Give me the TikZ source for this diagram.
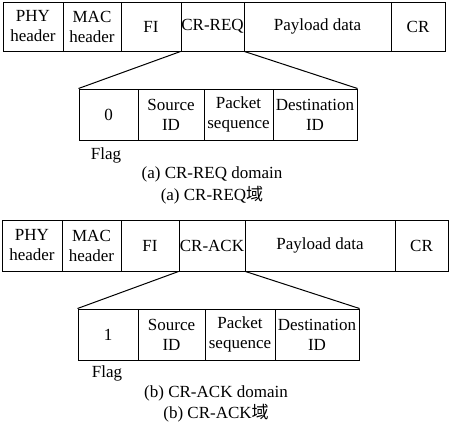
\documentclass[tikz,border=0pt]{standalone}
\usepackage{fontspec}
\setmainfont{Liberation Serif}
\newfontfamily\cjk{Noto Sans CJK SC}
\tikzset{
  cell/.style={draw, line width=1pt, inner sep=0pt, align=center,
    font=\fontsize{17}{20}\selectfont},
  lbl/.style={inner sep=0pt, font=\fontsize{17}{20}\selectfont},
  link/.style={line width=1pt}
}
\newcommand\mycell[6]{%
  \node[cell, minimum width={(#3-#2)*1pt}, minimum height={(#5-#4)*1pt}]
    (#1) at ({(#2+#3)/2},{-(#4+#5)/2}) {#6};}
\begin{document}
\begin{tikzpicture}[x=1pt,y=1pt]
\useasboundingbox (0,0) rectangle (450,-421);
% (a)
\mycell{aphy}{3}{63}{2}{51}{PHY\\header}
\mycell{amac}{63}{121}{2}{51}{MAC\\header}
\mycell{afi}{121}{181}{2}{51}{FI}
\mycell{acr}{181}{244}{2}{51}{CR-REQ}
\mycell{apay}{244}{391}{2}{51}{Payload data}
\mycell{acrc}{391}{445}{2}{51}{CR}
\mycell{aflag}{79}{138}{89}{140}{0}
\mycell{asrc}{138}{204}{89}{140}{Source\\ID}
\mycell{aseq}{204}{273}{89}{140}{Packet\\sequence}
\mycell{adst}{273}{357}{89}{140}{Destination\\ID}
\draw[link] (acr.south west) -- (aflag.north west);
\draw[link] (acr.south east) -- (adst.north east);
\node[lbl] (aflaglbl) at (106,-155) {Flag};
\node[lbl] (acap1) at (212,-174) {(a) CR-REQ domain};
\node[lbl] (acap2) at (212,-195) {(a) CR-REQ{\cjk 域}};
% (b)
\mycell{bphy}{2}{62}{220}{271}{PHY\\header}
\mycell{bmac}{62}{121}{220}{271}{MAC\\header}
\mycell{bfi}{121}{179}{220}{271}{FI}
\mycell{bcr}{179}{245}{220}{271}{CR-ACK}
\mycell{bpay}{245}{395}{220}{271}{Payload data}
\mycell{bcrc}{395}{448}{220}{271}{CR}
\mycell{bflag}{78}{138}{309}{360}{1}
\mycell{bsrc}{138}{205}{309}{360}{Source\\ID}
\mycell{bseq}{205}{275}{309}{360}{Packet\\sequence}
\mycell{bdst}{275}{359}{309}{360}{Destination\\ID}
\draw[link] (bcr.south west) -- (bflag.north west);
\draw[link] (bcr.south east) -- (bdst.north east);
\node[lbl] (bflaglbl) at (107,-373) {Flag};
\node[lbl] (bcap1) at (216,-393) {(b) CR-ACK domain};
\node[lbl] (bcap2) at (216,-413) {(b) CR-ACK{\cjk 域}};
\end{tikzpicture}
\end{document}
